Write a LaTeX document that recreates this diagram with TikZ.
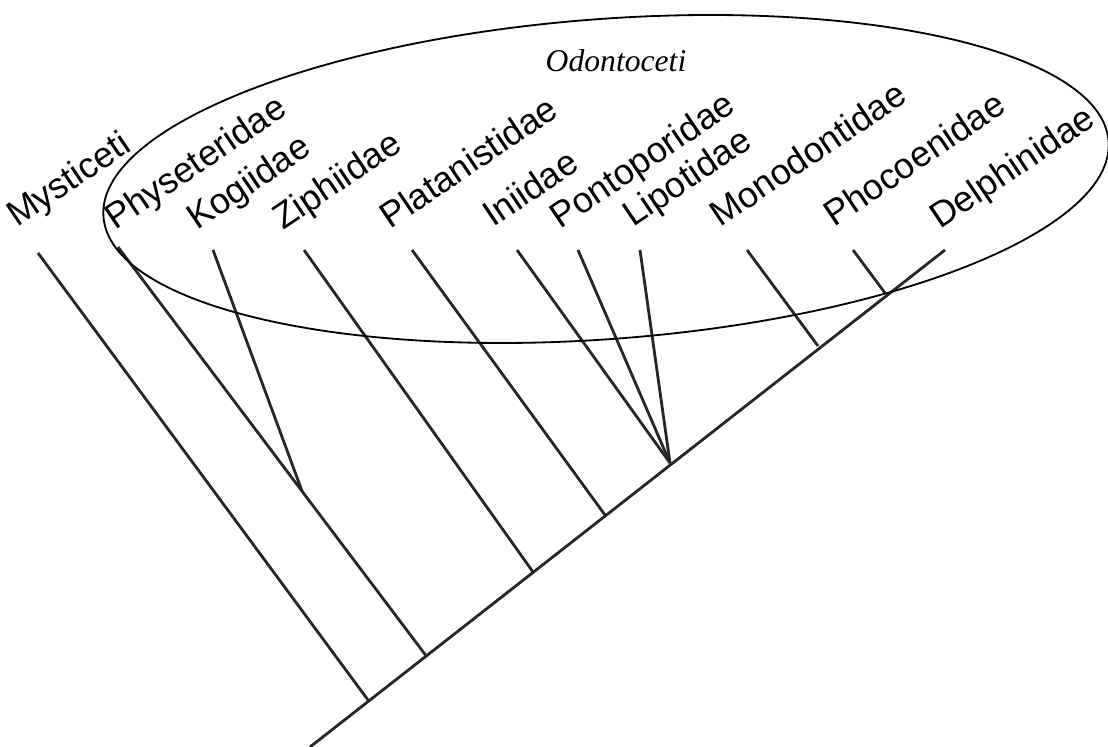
\documentclass[tikz,border=0pt]{standalone}
\usepackage{fontspec}
\setmainfont{Liberation Sans}
\newfontfamily\groupfont{Liberation Serif}
\tikzstyle{taxon}=[anchor=base west,rotate=34,inner sep=0pt,font=\fontsize{25.5}{30}\selectfont]
\tikzstyle{branch}=[line width=2pt,draw=black!85]
\tikzstyle{clade}=[line width=1.3pt]

\begin{document}
\begin{tikzpicture}[x=0.025cm,y=0.025cm]
    \useasboundingbox (0,0) rectangle (1108,747);
    % branch points on the main line
    \coordinate (root) at (310,0);
    \coordinate (j1) at (368,47);
    \coordinate (j2) at (427,90);
    \coordinate (j3) at (533,175);
    \coordinate (j4) at (605,232);
    \coordinate (j5) at (670,284);
    \coordinate (j6) at (818,401);
    \coordinate (j7) at (885,454);
    \coordinate (pk) at (302,256);
    % branch tips
    \coordinate (tmys) at (38,494);
    \coordinate (tphy) at (118,500);
    \coordinate (tkog) at (213,497);
    \coordinate (tzip) at (304,497);
    \coordinate (tpla) at (412,497);
    \coordinate (tini) at (517,497);
    \coordinate (tpon) at (578,497);
    \coordinate (tlip) at (640,497);
    \coordinate (tmon) at (747,497);
    \coordinate (tpho) at (853,497);
    \coordinate (tdel) at (945,497);
    % names
    \node[taxon] (mys) at (17,519)  {Mysticeti};
    \node[taxon] (phy) at (115,516) {Physeteridae};
    \node[taxon] (kog) at (197,516) {Kogiidae};
    \node[taxon] (zip) at (283,516) {Ziphiidae};
    \node[taxon] (pla) at (390,517) {Platanistidae};
    \node[taxon] (ini) at (493,519) {Iniidae};
    \node[taxon] (pon) at (560,517) {Pontoporidae};
    \node[taxon] (lip) at (633,519) {Lipotidae};
    \node[taxon] (mon) at (720,519) {Monodontidae};
    \node[taxon] (pho) at (834,519) {Phocoenidae};
    \node[taxon] (del) at (940,517) {Delphinidae};
    \node[anchor=base,inner sep=0pt,font=\groupfont\itshape\fontsize{22.5}{27}\selectfont] (odo) at (616,675) {Odontoceti};

    \draw[branch] (root) -- (tdel);
    \draw[branch] (j1) -- (tmys);
    \draw[branch] (j2) -- (tphy);
    \draw[branch] (pk) -- (tkog);
    \draw[branch] (j3) -- (tzip);
    \draw[branch] (j4) -- (tpla);
    \draw[branch] (j5) -- (tini);
    \draw[branch] (j5) -- (tpon);
    \draw[branch] (j5) -- (tlip);
    \draw[branch] (j6) -- (tmon);
    \draw[branch] (j7) -- (tpho);
    \draw[clade,rotate around={4.3:(606,568)}] (606,568) ellipse [x radius=504,y radius=160];
\end{tikzpicture}
\end{document}
